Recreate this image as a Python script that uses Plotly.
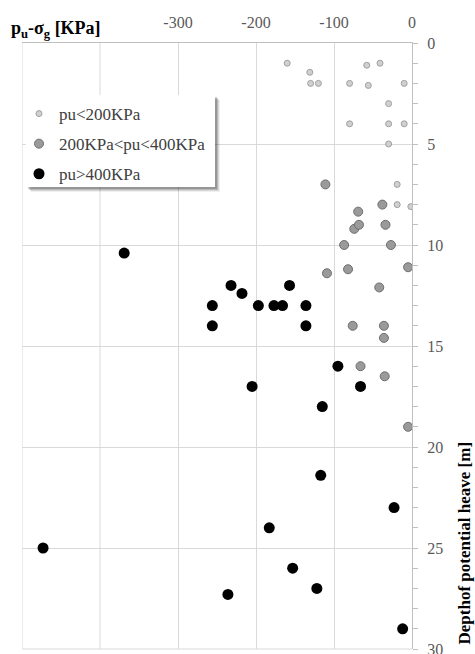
import plotly.graph_objects as go

# pu < 200 KPa
low_x = [-160, -58, -41, -131, -130, -120, -80, -56, -10, -30, -80, -30, -10, -30, -19, -19, -1.5]
low_y = [1, 1.1, 1, 1.45, 2, 2, 2, 2.1, 2, 3, 4, 4, 4, 5, 7, 8, 8.1]

# 200 KPa < pu < 400 KPa
mid_x = [-111, -38, -69, -74, -68, -34, -87, -27, -5, -109, -82, -42, -76, -36, -36, -66, -35, -5]
mid_y = [7, 8, 8.35, 9.2, 9, 9, 10, 10, 11.1, 11.4, 11.2, 12.1, 14, 14, 14.6, 16, 16.5, 19]

# pu > 400 KPa
high_x = [-369, -232, -218, -157, -256, -197, -177, -166, -136, -256, -136, -95, -205, -66, -115,
          -117, -23, -183, -473, -153, -122, -236, -12]
high_y = [10.4, 12, 12.4, 12, 13, 13, 13, 13, 13, 14, 14, 16, 17, 17, 18,
          21.4, 23, 24, 25, 26, 27, 27.3, 29]

x_ticks = [-300, -200, -100, 0]
x_ticktext = ["-300", "-200", "-100", "0"]
y_ticks = [0, 5, 10, 15, 20, 25, 30]

SERIF = "Liberation Serif"
GRID = "#d9d9d9"
AXIS = "#bfbfbf"
TICKTXT = "#595959"

fig = go.Figure()
fig.add_trace(go.Scatter(
    x=low_x, y=low_y, mode="markers", name="pu<200KPa", legendgroup="a",
    marker=dict(size=6, color="#d0d0d0", line=dict(color="#a0a0a0", width=1)),
))
fig.add_trace(go.Scatter(
    x=mid_x, y=mid_y, mode="markers", name="200KPa<pu<400KPa", legendgroup="b",
    marker=dict(size=9, color="#9a9a9a", line=dict(color="#6e6e6e", width=1)),
))
fig.add_trace(go.Scatter(
    x=high_x, y=high_y, mode="markers", name="pu>400KPa", legendgroup="c",
    marker=dict(size=11, color="#000000", line=dict(color="#000000", width=0)),
))

L, R, T, B = 22, 63, 43, 5
W, H = 475, 654
pw, ph = W - L - R, H - T - B

def px_x(p):
    return (p - L) / pw

def px_y(p):
    return (H - B - p) / ph

# legend box with soft shadow
for off, op in [(5, 0.06), (4, 0.10), (3, 0.14), (2, 0.18)]:
    fig.add_shape(type="rect", xref="paper", yref="paper",
                  x0=px_x(26 + off), x1=px_x(215 + off),
                  y0=px_y(187 + off), y1=px_y(95 + off),
                  line=dict(width=0), fillcolor=f"rgba(0,0,0,{op})", layer="above")
fig.add_shape(type="rect", xref="paper", yref="paper",
              x0=px_x(26), x1=px_x(215), y0=px_y(187), y1=px_y(95),
              line=dict(width=0), fillcolor="white", layer="above")

fig.update_layout(
    width=W, height=H,
    margin=dict(l=L, r=R, t=T, b=B, autoexpand=False),
    paper_bgcolor="white", plot_bgcolor="white",
    font=dict(family=SERIF, size=16, color=TICKTXT),
    showlegend=True,
    legend=dict(
        x=px_x(19), y=px_y(96), xanchor="left", yanchor="top",
        bgcolor="rgba(0,0,0,0)", borderwidth=0, tracegroupgap=5,
        font=dict(family=SERIF, size=17, color="#404040"),
    ),
    xaxis=dict(
        range=[-500, 0], side="top", tickvals=x_ticks, ticktext=x_ticktext, ticks="",
        showgrid=True, gridcolor=GRID, gridwidth=1,
        showline=True, linecolor=AXIS, linewidth=1, mirror=False,
        zeroline=False, tickfont=dict(family=SERIF, size=16, color=TICKTXT),
        ticklabelstandoff=8, automargin=False, fixedrange=True,
    ),
    yaxis=dict(
        range=[30, 0], side="right", tickvals=y_ticks,
        ticks="outside", ticklen=5, tickcolor=AXIS, tickwidth=1,
        minor=dict(dtick=1, ticks="outside", ticklen=5, tickcolor=AXIS, showgrid=False),
        showgrid=True, gridcolor=GRID, gridwidth=1,
        showline=True, linecolor=AXIS, linewidth=1,
        zeroline=False, tickfont=dict(family=SERIF, size=16, color=TICKTXT),
        ticklabelstandoff=6, ticklabeloverflow="allow", automargin=False, fixedrange=True,
    ),
)

# x gridlines at -500 and -400 (no labels there)
for gx in [-500, -400]:
    fig.add_vline(x=gx, line=dict(color=GRID, width=1), layer="below")
fig.add_shape(type="line", xref="paper", yref="paper", x0=0, x1=1, y0=0, y1=0,
              line=dict(color=GRID, width=1), layer="below")

fig.add_annotation(
    text="p<sub>u</sub>-σ<sub>g</sub> [KPa]", xref="paper", yref="paper",
    x=px_x(9), y=px_y(29), xanchor="left", yanchor="middle", showarrow=False,
    font=dict(family=SERIF, size=18, color="#000000", weight="bold"),
)
fig.add_annotation(
    text="Depthof potential heave [m]", xref="paper", yref="paper",
    x=px_x(464), y=px_y(647), xanchor="center", yanchor="bottom", showarrow=False,
    textangle=-90,
    font=dict(family=SERIF, size=17, color="#000000", weight="bold"),
)

fig.write_html(
    "out.html",
    config={"displayModeBar": False},
    post_script="document.body.style.margin='0';document.body.style.overflow='hidden';",
)
